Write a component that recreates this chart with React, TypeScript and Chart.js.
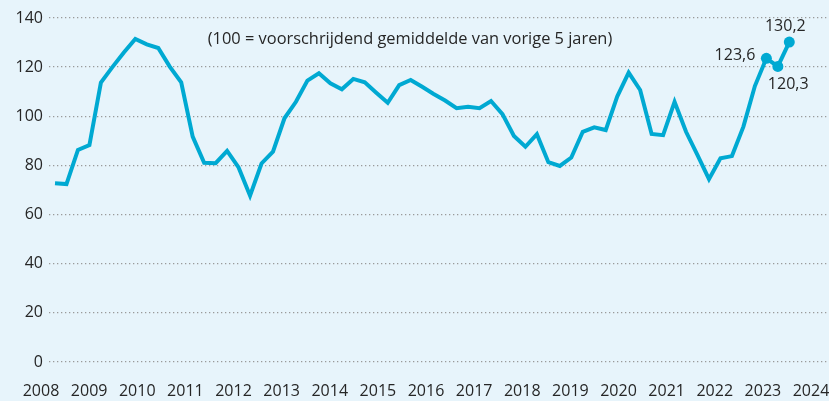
import React, { useEffect, useRef } from 'react';
import { Chart, registerables } from 'chart.js';

Chart.register(...registerables);

// Tick labels (years) shown on the x-axis
const years = [2008, 2009, 2010, 2011, 2012, 2013, 2014, 2015, 2016, 2017, 2018, 2019, 2020, 2021, 2022, 2023, 2024];

// Y-axis tick values
const yTicks = [0, 20, 40, 60, 80, 100, 120, 140];

// Quarterly index values (100 = voorschrijdend gemiddelde van vorige 5 jaren), 2008K1 .. 2024K1
const values = [
  72.7, 72.4, 86.3, 88.3,
  113.7, 120.0, 126.0, 131.5,
  129.3, 127.8, 120.2, 113.8,
  91.7, 81.1, 80.9, 85.9,
  79.2, 67.7, 80.8, 85.6,
  99.2, 105.9, 114.5, 117.5,
  113.4, 111.0, 115.2, 113.8,
  109.6, 105.5, 112.7, 114.8,
  112.0, 109.1, 106.4, 103.3,
  103.9, 103.3, 106.2, 100.9,
  92.0, 87.6, 92.7, 81.3,
  79.8, 83.2, 93.7, 95.5,
  94.4, 108.0, 117.8, 110.7,
  92.8, 92.3, 105.9, 93.7,
  84.2, 74.4, 82.9, 83.8,
  95.8, 112.3, 123.6, 120.3,
  130.2,
];

const subtitle = '(100 = voorschrijdend gemiddelde van vorige 5 jaren)';

const BG = '#e7f4fb';
const LINE = '#00a9d2';
const TEXT = '#262626';
const FONT = '"Open Sans", sans-serif';
const HIGHLIGHT_COUNT = 3;

// placement of the value labels for the highlighted last points
const labelPlacement = [
  { dx: -11, dy: -3, align: 'right' as CanvasTextAlign },
  { dx: -10, dy: 18, align: 'left' as CanvasTextAlign },
  { dx: -4, dy: -16, align: 'center' as CanvasTextAlign },
];

const bgPlugin = {
  id: 'bg',
  beforeDraw(chart: any) {
    const { ctx, width, height } = chart;
    ctx.save();
    ctx.fillStyle = BG;
    ctx.fillRect(0, 0, width, height);
    ctx.restore();
  },
};

const annotPlugin = {
  id: 'annot',
  afterDatasetsDraw(chart: any) {
    const { ctx } = chart;
    ctx.save();
    ctx.fillStyle = TEXT;
    ctx.font = `16.4px ${FONT}`;
    ctx.textBaseline = 'middle';
    ctx.textAlign = 'center';
    ctx.fillText(subtitle, 410, 39);
    ctx.font = `16px ${FONT}`;
    const meta = chart.getDatasetMeta(0);
    const n = values.length;
    for (let k = 0; k < HIGHLIGHT_COUNT; k++) {
      const idx = n - HIGHLIGHT_COUNT + k;
      const pt = meta.data[idx];
      const pl = labelPlacement[k];
      ctx.textAlign = pl.align;
      ctx.fillText(values[idx].toFixed(1).replace('.', ','), pt.x + pl.dx, pt.y + pl.dy);
    }
    ctx.restore();
  },
};

export default function App() {
  const ref = useRef<HTMLCanvasElement>(null);
  useEffect(() => {
    document.body.style.margin = '0';
    document.body.style.background = BG;
    const n = values.length;
    const chart = new Chart(ref.current as HTMLCanvasElement, {
      type: 'line',
      data: {
        datasets: [
          {
            data: values.map((v, i) => ({ x: i, y: v })),
            xAxisID: 'xq',
            yAxisID: 'y',
            borderColor: LINE,
            borderWidth: 4,
            pointRadius: (c: any) => (c.dataIndex >= n - HIGHLIGHT_COUNT ? 5.5 : 0),
            pointHoverRadius: 0,
            pointBackgroundColor: LINE,
            pointBorderWidth: 0,
            tension: 0,
            clip: false as any,
          },
        ],
      },
      options: {
        animation: false,
        responsive: false,
        maintainAspectRatio: false,
        events: [],
        layout: { autoPadding: false, padding: { top: 18, right: 0, bottom: 0, left: 0 } },
        plugins: { legend: { display: false }, tooltip: { enabled: false }, title: { display: false } },
        scales: {
          x: {
            type: 'linear',
            position: 'bottom',
            min: 2008.166,
            max: 2024.374,
            grid: { display: false, drawTicks: false },
            border: { display: false },
            afterBuildTicks: (s: any) => {
              s.ticks = years.map((v) => ({ value: v }));
            },
            afterFit: (s: any) => {
              s.height = 39;
              s.paddingLeft = 0;
              s.paddingRight = 0;
            },
            ticks: {
              callback: (v: any) => String(v),
              padding: 20,
              font: { family: FONT, size: 16 },
              color: TEXT,
              maxRotation: 0,
              autoSkip: false,
            },
          },
          xq: {
            type: 'linear',
            position: 'bottom',
            display: false,
            min: -0.523,
            max: 67.46,
            ticks: { display: false },
            afterFit: (s: any) => {
              s.height = 0;
              s.paddingLeft = 0;
              s.paddingRight = 0;
            },
          },
          y: {
            min: 0,
            max: 140,
            afterFit: (s: any) => {
              s.width = 49;
            },
            afterBuildTicks: (s: any) => {
              s.ticks = yTicks.map((v) => ({ value: v }));
            },
            ticks: {
              padding: 6,
              font: { family: FONT, size: 16 },
              color: TEXT,
              callback: (v: any) => String(v),
            },
            grid: { color: '#9a9a9a', lineWidth: 1.3, drawTicks: false },
            border: { display: false, dash: [1.3, 2.7] },
          },
        },
      } as any,
      plugins: [bgPlugin, annotPlugin],
    });
    return () => chart.destroy();
  }, []);
  return <canvas ref={ref} width={829} height={401} style={{ display: 'block' }} />;
}
